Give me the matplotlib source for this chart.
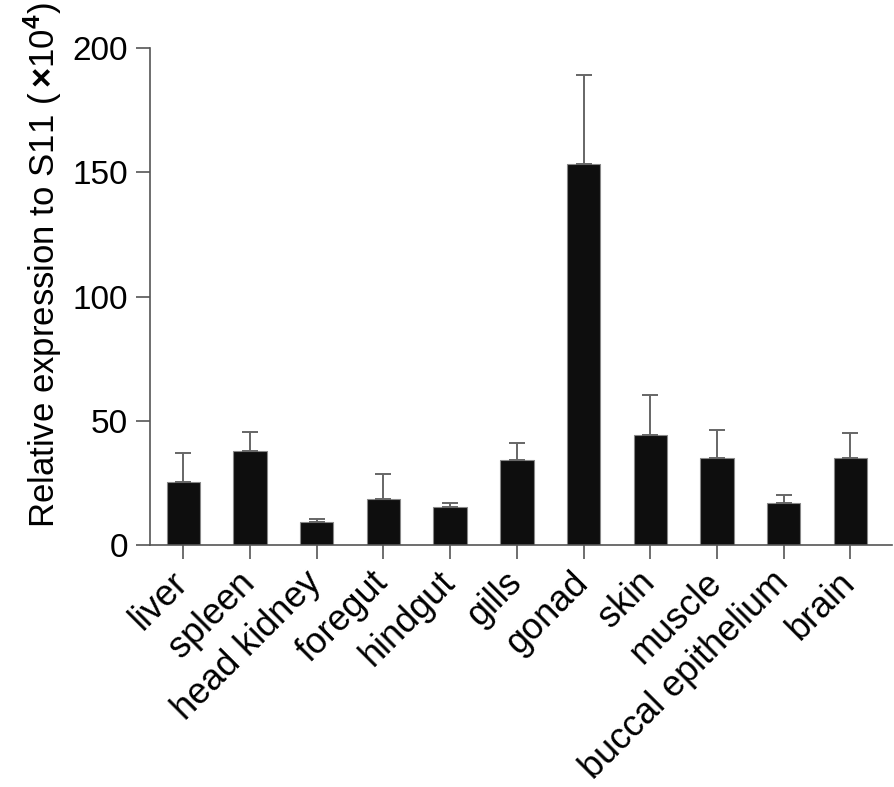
import matplotlib
matplotlib.use('Agg')
import matplotlib.pyplot as plt
import matplotlib.transforms as mtransforms
import numpy as np

plt.rcParams['font.family'] = ['Liberation Sans', 'DejaVu Sans']
plt.rcParams['mathtext.fontset'] = 'custom'
plt.rcParams['mathtext.rm'] = 'Liberation Sans'
plt.rcParams['mathtext.bf'] = 'Liberation Sans:bold'

tissues = ['liver', 'spleen', 'head kidney', 'foregut', 'hindgut', 'gills',
           'gonad', 'skin', 'muscle', 'buccal epithelium', 'brain']
expression = [25.2, 37.8, 9.3, 18.6, 15.4, 34.1, 153.2, 44.1, 34.9, 17.0, 34.9]
sd = [11.7, 7.7, 1.3, 10.1, 1.6, 6.8, 35.8, 16.1, 11.2, 3.0, 10.3]

axis_color = '#555555'

fig = plt.figure(figsize=(8.94, 7.87), dpi=100)
ax = fig.add_axes([0.1678, 0.3075, 0.8296, 0.6315])

x = np.arange(len(tissues))
ax.bar(x, expression, width=0.5, color='#0e0e0e', edgecolor='#888888', linewidth=0.8,
       yerr=[np.zeros(len(sd)), sd],
       error_kw=dict(ecolor='#666666', elinewidth=1.4, capsize=6, capthick=1.4))

ax.set_xlim(-0.5, 10.62)
ax.set_ylim(0, 200)
ax.set_yticks([0, 50, 100, 150, 200])
ax.set_xticks(x)
ax.set_xticklabels([])

# tissue names, rotated and hung just below the ticks
label_shift = mtransforms.ScaledTranslation(-13 / 100, -20 / 100, fig.dpi_scale_trans)
for xi, name in zip(x, tissues):
    ax.text(xi, 0, name, fontsize=26, rotation=45, ha='right', va='top',
            rotation_mode='anchor', transform=ax.get_xaxis_transform() + label_shift,
            clip_on=False)

for side in ['top', 'right']:
    ax.spines[side].set_visible(False)
for side in ['left', 'bottom']:
    ax.spines[side].set_color(axis_color)
    ax.spines[side].set_linewidth(1.2)

ax.tick_params(axis='both', colors=axis_color, width=1.2, length=10,
               labelcolor='black')
ax.tick_params(axis='y', labelsize=24, pad=6)

ax.set_ylabel(r'Relative expression to S11 ($\,\mathbf{\times}$10$^{\mathbf{4}}$)',
              fontsize=25)
ax.yaxis.set_label_coords(-0.116, 0.562)

fig.savefig('out.png', dpi=100)
